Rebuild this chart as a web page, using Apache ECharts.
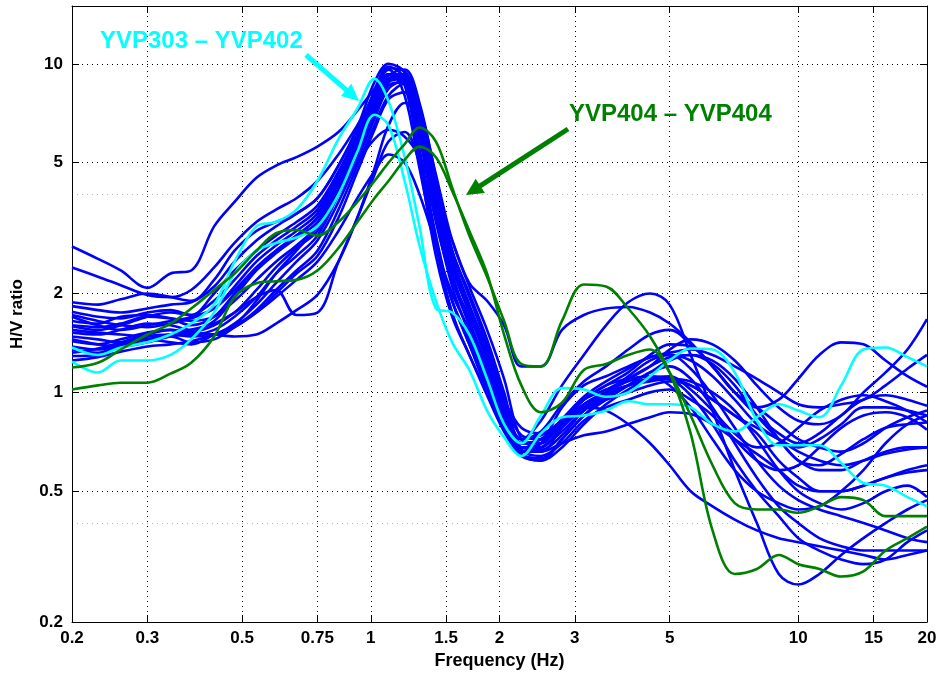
<!DOCTYPE html>
<html>
<head>
<meta charset="utf-8">
<script src="https://cdn.jsdelivr.net/npm/echarts@6/dist/echarts.min.js"></script>
<style>
html,body{margin:0;padding:0;background:#fff;}
#chart{width:941px;height:679px;}
</style>
</head>
<body>
<div id="chart"></div>
<script>
// ---- data ----
const freq = [0.2,0.23,0.26,0.3,0.34,0.38,0.43,0.48,0.54,0.6,0.67,0.75,0.84,0.93,1.02,1.1,1.2,1.3,1.42,1.55,1.7,1.87,2.05,2.25,2.5,2.8,3.15,3.55,4.0,4.5,5.0,5.6,6.3,7.1,8.0,9.0,10,11.2,12.6,14.2,16,18,20];
const xTicks = [0.2,0.3,0.5,0.75,1,1.5,2,3,5,10,15,20];
const yTicks = [0.2,0.5,1,2,5,10];
const yMinorTicks = [0.4,4];

const blue01 = [2.78,2.55,2.35,2.08,2.3,2.35,3.2,3.8,4.5,4.9,5.2,5.6,6.2,7.2, 8.4,9.6,8.0,4.8,2.8,2.0,1.55,1.2,0.9,0.72,0.76,0.92,1.08, 1.2,1.35,1.5,1.55,1.4,1.2,1.0,0.9,0.8,0.72,0.68,0.66,0.7,0.78,0.84,0.88];
const blue02 = [2.4,2.25,2.12,1.98,1.95,2.05,2.4,2.85,3.3,3.6,3.9,4.4,5.3,6.5, 8.0,9.3,9.0,6.0,3.3,2.2,1.7,1.3,0.95,0.74,0.72,0.83,0.97, 1.08,1.18,1.28,1.3,1.18,0.98,0.78,0.62,0.52,0.47,0.44,0.42,0.4,0.38,0.36,0.35];
const blue03 = [1.88,1.85,1.92,2.0,1.95,1.9,2.2,2.7,3.1,3.3,3.5,3.9,4.9,6.3, 8.2,9.7,9.5,7.2,4.4,2.7,2.0,1.45,1.0,0.7,0.7,0.82,0.95, 1.02,1.1,1.2,1.35,1.45,1.4,1.25,1.05,0.9,0.82,0.8,0.85,1.0,1.15,1.35,1.67];
const blue04 = [1.83,1.78,1.75,1.8,1.85,1.88,2.1,2.5,2.9,3.2,3.5,3.9,4.9,6.4, 8.8,10.0,9.4,6.6,3.8,2.4,1.75,1.25,0.88,0.66,0.66,0.78,0.9, 1.0,1.12,1.25,1.3,1.25,1.12,0.95,0.8,0.72,0.68,0.72,0.8,0.9,0.9,0.88,0.85];
const blue05 = [1.76,1.7,1.68,1.75,1.78,1.72,2.0,2.35,2.7,3.0,3.3,3.7,4.7,6.1, 7.8,9.3,9.3,7.4,4.6,2.9,2.1,1.55,1.1,0.72,0.68,0.8,0.95, 1.05,1.15,1.3,1.4,1.38,1.2,1.0,0.9,0.95,1.1,1.3,1.42,1.4,1.25,1.12,1.04];
const blue06 = [1.7,1.6,1.55,1.6,1.65,1.7,1.9,2.2,2.6,2.9,3.2,3.6,4.6,6.0, 8.3,9.8,9.0,5.4,2.9,1.9,1.4,1.05,0.8,0.65,0.63,0.72,0.85, 0.95,1.05,1.15,1.2,1.1,0.9,0.7,0.55,0.45,0.4,0.36,0.34,0.33,0.33,0.33,0.33];
const blue07 = [1.65,1.62,1.7,1.72,1.68,1.6,1.7,2.0,2.4,2.7,3.0,3.4,4.4,5.8, 7.6,9.2,9.6,7.6,4.5,2.6,1.85,1.35,0.95,0.68,0.67,0.74,0.88, 0.98,1.05,1.1,1.1,1.05,0.95,0.85,0.75,0.62,0.55,0.5,0.5,0.52,0.55,0.57,0.58];
const blue08 = [1.59,1.55,1.6,1.7,1.75,1.72,1.8,2.1,2.5,2.8,3.1,3.5,4.5,5.9, 7.8,9.3,8.6,5.0,2.6,1.7,1.3,0.98,0.76,0.64,0.62,0.72,0.85, 0.98,1.1,1.2,1.28,1.3,1.22,1.05,0.85,0.72,0.62,0.58,0.58,0.62,0.66,0.68,0.68];
const blue09 = [1.52,1.5,1.55,1.62,1.6,1.55,1.65,1.95,2.35,2.65,2.95,3.3,4.3,5.6, 7.3,8.9,9.1,6.9,4.1,2.5,1.8,1.3,0.92,0.65,0.62,0.68,0.8, 0.92,1.02,1.1,1.12,1.02,0.88,0.75,0.68,0.7,0.78,0.88,0.95,0.98,0.94,0.88,0.81];
const blue10 = [1.48,1.45,1.42,1.45,1.5,1.52,1.6,1.75,2.05,2.4,2.75,3.1,4.1,5.5, 7.2,8.8,9.0,6.0,3.5,2.25,1.65,1.2,0.88,0.67,0.64,0.7,0.82, 0.9,0.95,1.0,1.02,0.95,0.85,0.72,0.62,0.58,0.6,0.68,0.78,0.85,0.87,0.84,0.77];
const blue11 = [1.43,1.4,1.45,1.52,1.55,1.5,1.55,1.7,1.95,2.3,2.6,3.0,4.0,5.3, 7.0,8.6,8.8,5.5,3.0,1.9,1.45,1.1,0.82,0.66,0.7,0.9,1.05, 1.12,1.2,1.28,1.32,1.35,1.3,1.2,1.1,1.0,0.92,0.9,0.92,0.95,1.05,1.18,1.3];
const blue12 = [1.35,1.32,1.4,1.48,1.5,1.48,1.5,1.62,1.85,2.15,2.5,2.9,3.8,5.1, 6.8,8.4,8.9,6.5,3.9,2.4,1.75,1.25,0.9,0.7,0.72,0.8,0.92, 1.0,1.05,1.08,1.1,1.08,1.0,0.88,0.72,0.58,0.5,0.46,0.44,0.46,0.5,0.52,0.48];
const blue13 = [1.29,1.3,1.38,1.45,1.48,1.42,1.45,1.58,1.78,2.05,2.35,2.7,3.6,4.9, 6.5,8.0,8.7,7.0,4.4,2.7,1.95,1.4,0.98,0.72,0.74,0.8,0.9, 0.95,1.0,1.05,1.08,1.05,0.95,0.85,0.78,0.72,0.66,0.62,0.6,0.62,0.65,0.67,0.68];
const blue14 = [1.25,1.28,1.33,1.38,1.4,1.43,1.5,1.6,1.75,2.0,2.3,2.6,3.4,4.7, 6.3,7.8,8.2,5.2,2.8,1.75,1.3,1.0,0.78,0.66,0.68,0.76,0.88, 0.96,1.05,1.15,1.25,1.3,1.25,1.1,0.9,0.72,0.62,0.6,0.65,0.72,0.78,0.8,0.81];
const blue15 = [1.6,1.58,1.62,1.7,1.68,1.65,1.7,1.9,2.2,2.5,2.8,3.2,4.0,5.0, 5.9,6.3,6.0,5.2,3.9,2.9,2.15,1.9,1.6,1.2,1.2,1.55,1.72, 1.8,1.82,1.75,1.62,1.42,1.2,1.0,0.85,0.75,0.7,0.75,0.85,0.95,0.98,0.95,0.91];
const blue16 = [1.45,1.4,1.38,1.42,1.48,1.5,1.5,1.58,1.75,1.95,2.2,2.5,3.1,3.9, 4.7,5.3,5.0,4.0,2.8,1.9,1.4,1.02,0.8,0.68,0.7,0.8,0.92, 1.0,1.08,1.12,1.1,0.98,0.8,0.62,0.5,0.42,0.36,0.33,0.31,0.3,0.31,0.35,0.38];
const blue17 = [1.72,1.65,1.6,1.58,1.62,1.68,1.8,2.05,2.4,2.7,3.0,3.4,4.3,5.6, 7.0,8.8,9.2,6.2,3.6,2.3,1.6,1.15,0.85,0.72,0.82,1.05,1.3, 1.6,1.88,2.0,1.85,1.3,0.88,0.58,0.4,0.28,0.26,0.28,0.32,0.36,0.4,0.44,0.47];
const blue18 = [1.55,1.52,1.5,1.48,1.5,1.55,1.62,1.75,1.95,2.05,1.72,1.75,2.5,3.4, 4.6,5.8,6.2,5.0,3.4,2.2,1.6,1.15,0.85,0.7,0.72,0.82,0.95, 1.05,1.1,1.12,1.05,0.9,0.72,0.58,0.5,0.46,0.44,0.45,0.5,0.58,0.7,0.8,0.85];
const blue19 = [1.32,1.36,1.42,1.5,1.55,1.52,1.5,1.48,1.5,1.62,1.78,1.98,2.5,3.4, 4.8,6.5,7.6,6.8,4.3,2.6,1.8,1.3,0.95,0.78,0.75,0.82,0.9, 0.88,0.8,0.7,0.6,0.5,0.45,0.41,0.38,0.36,0.35,0.34,0.33,0.32,0.31,0.32,0.33];
const blue20 = [1.38,1.35,1.4,1.45,1.42,1.4,1.5,1.6,1.9,2.3,2.7,3.2,4.2,5.6, 7.4,9.0,9.3,6.4,3.4,2.1,1.5,1.05,0.8,0.66,0.66,0.7,0.74, 0.76,0.8,0.84,0.87,0.86,0.8,0.72,0.65,0.58,0.52,0.5,0.5,0.52,0.55,0.58,0.6];

const cyan1 = [1.37,1.3,1.37,1.42,1.5,1.62,1.85,2.5,3.2,3.3,3.6,4.4,5.9,7.3, 9.0,7.7,5.2,3.2,1.8,1.75,1.5,1.1,0.8,0.7,0.85,1.03,1.02, 0.97,1.0,1.12,1.25,1.36,1.35,1.15,0.82,0.69,0.69,0.69,0.61,0.53,0.52,0.48,0.45];
const cyan2 = [1.24,1.15,1.25,1.25,1.3,1.45,1.75,2.3,2.7,2.85,2.96,3.2,4.0,5.4, 7.0,6.5,4.4,2.8,1.9,1.42,1.17,0.88,0.73,0.64,0.75,0.84,0.85, 0.88,0.94,0.92,0.92,0.9,0.8,0.76,0.84,0.92,0.88,0.84,1.05,1.35,1.37,1.28,1.2];

const green1 = [1.19,1.23,1.35,1.5,1.62,1.8,2.05,2.3,2.7,3.05,3.12,3.0,3.3,3.8, 4.4,5.0,5.7,6.4,5.8,4.2,3.0,2.25,1.65,1.22,1.2,1.65,2.13, 2.1,1.8,1.48,1.15,0.75,0.38,0.28,0.29,0.32,0.3,0.29,0.275,0.285,0.33,0.36,0.39];
const green2 = [1.02,1.05,1.07,1.07,1.14,1.23,1.48,1.95,2.15,2.18,2.2,2.35,2.75,3.3, 3.9,4.4,5.1,5.6,5.2,4.1,3.1,2.3,1.5,1.05,0.87,0.93,1.17, 1.22,1.3,1.35,1.15,0.85,0.6,0.46,0.44,0.44,0.43,0.45,0.48,0.47,0.42,0.42,0.42];

const blueCurves = [blue01,blue02,blue03,blue04,blue05,blue06,blue07,blue08,blue09,blue10,blue11,blue12,blue13,blue14,blue15,blue16,blue17,blue18,blue19,blue20];
const cyanCurves = [cyan1,cyan2];
const greenCurves = [green1,green2];

// ---- chart ----
const L = Math.log10;
const FONT = '"Liberation Sans", Arial, Helvetica, sans-serif';
const xMin = L(0.2), xMax = L(20), yMin = L(0.2), yMax = L(15);

function fmt(ticks){
  return function(v){
    const t = ticks.find(t => Math.abs(L(t) - v) < 1e-6);
    return t === undefined ? '' : String(t);
  };
}
const xTickLog = xTicks.map(L), yTickLog = yTicks.map(L), yMinorLog = yMinorTicks.map(L);

function mkSeries(curve, color){
  return {
    type: 'line', showSymbol: false, smooth: 0.35, silent: true,
    lineStyle: {color: color, width: 2.6},
    data: freq.map((f, i) => [L(f), L(curve[i])])
  };
}
const series = [];
blueCurves.forEach(c => series.push(mkSeries(c, '#0000ff')));
cyanCurves.forEach(c => series.push(mkSeries(c, '#00ffff')));
greenCurves.forEach(c => series.push(mkSeries(c, '#008000')));

function arrow(x1, y1, x2, y2, color, w, hl, hw){
  const dx = x2 - x1, dy = y2 - y1, len = Math.hypot(dx, dy);
  const ux = dx/len, uy = dy/len, px = -uy, py = ux;
  const bx = x2 - ux*hl, by = y2 - uy*hl;
  return [
    {type:'line', z:100, shape:{x1:x1, y1:y1, x2:bx + ux*2, y2:by + uy*2}, style:{stroke:color, lineWidth:w}},
    {type:'polygon', z:100, shape:{points:[[x2,y2],[bx + px*hw, by + py*hw],[bx - px*hw, by - py*hw]]}, style:{fill:color}}
  ];
}

const axisTxt = {color:'#000', fontWeight:'bold', fontSize:17, fontFamily:FONT};
const option = {
  animation: false,
  backgroundColor: '#fff',
  grid: {left:72, right:14, top:6, bottom:57, containLabel:false},
  xAxis: [
    {type:'value', min:xMin, max:xMax, position:'bottom',
     name:'Frequency (Hz)', nameLocation:'middle', nameGap:28,
     nameTextStyle:{color:'#000', fontWeight:'bold', fontSize:18, fontFamily:FONT},
     axisLine:{show:true, onZero:false, lineStyle:{color:'#000', width:1}},
     axisTick:{show:true, inside:true, length:7, customValues:xTickLog, lineStyle:{color:'#000'}},
     axisLabel:Object.assign({show:true, customValues:xTickLog, formatter:fmt(xTicks), margin:8}, axisTxt),
     splitLine:{show:true, lineStyle:{color:'#000', type:[1,4], width:1}}},
    {type:'value', min:xMin, max:xMax, position:'top',
     axisLine:{show:true, onZero:false, lineStyle:{color:'#000', width:1}},
     axisTick:{show:true, inside:true, length:7, customValues:xTickLog, lineStyle:{color:'#000'}},
     axisLabel:{show:false}, splitLine:{show:false}}
  ],
  yAxis: [
    {type:'value', min:yMin, max:yMax, position:'left',
     name:'H/V ratio', nameLocation:'middle', nameGap:46, nameRotate:90,
     nameTextStyle:{color:'#000', fontWeight:'bold', fontSize:17, fontFamily:FONT},
     axisLine:{show:true, onZero:false, lineStyle:{color:'#000', width:1}},
     axisTick:{show:true, inside:true, length:7, customValues:yTickLog, lineStyle:{color:'#000'}},
     axisLabel:Object.assign({show:true, customValues:yTickLog, formatter:fmt(yTicks), margin:9}, axisTxt),
     splitLine:{show:true, lineStyle:{color:'#000', type:[1,4], width:1}}},
    {type:'value', min:yMin, max:yMax, position:'right',
     axisLine:{show:true, onZero:false, lineStyle:{color:'#000', width:1}},
     axisTick:{show:true, inside:true, length:7, customValues:yTickLog, lineStyle:{color:'#000'}},
     axisLabel:{show:false}, splitLine:{show:false}},
    {type:'value', min:yMin, max:yMax, position:'right',
     axisLine:{show:false}, axisTick:{show:false, customValues:yMinorLog},
     axisLabel:{show:false},
     splitLine:{show:true, lineStyle:{color:'#b4b4b4', type:[1,4], width:1}}}
  ],
  series: series,
  graphic: [
    {type:'text', z:100, x:100, y:41, style:{text:'YVP303 – YVP402', fill:'#00ffff', font:'bold 24px ' + FONT, align:'left', verticalAlign:'middle'}},
    {type:'text', z:100, x:569, y:114, style:{text:'YVP404 – YVP404', fill:'#008000', font:'bold 24px ' + FONT, align:'left', verticalAlign:'middle'}}
  ].concat(arrow(306, 55, 359, 101, '#00ffff', 5, 17, 8))
   .concat(arrow(568, 129, 466, 195, '#008000', 5, 17, 8.5))
};

const chart = echarts.init(document.getElementById('chart'), null, {renderer:'canvas'});
chart.setOption(option);
</script>
</body>
</html>
